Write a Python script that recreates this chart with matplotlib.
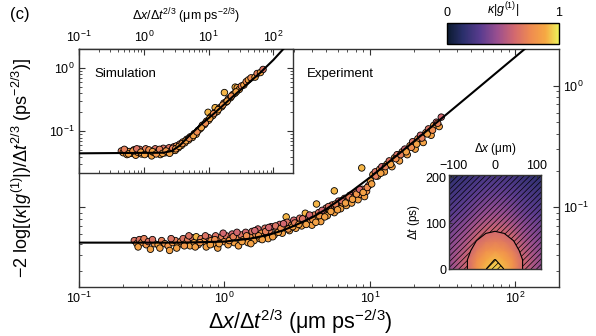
import numpy as np
import matplotlib
matplotlib.use('Agg')
import matplotlib.pyplot as plt
from matplotlib.colors import LinearSegmentedColormap

plt.rcParams['font.family'] = ['Liberation Sans', 'DejaVu Sans']
plt.rcParams['mathtext.fontset'] = 'custom'
plt.rcParams['mathtext.rm'] = 'Liberation Sans'
plt.rcParams['mathtext.it'] = 'Liberation Sans:italic'
plt.rcParams['mathtext.sf'] = 'Liberation Sans'
plt.rcParams['hatch.color'] = 'black'
plt.rcParams['hatch.linewidth'] = 0.5

# colour map of kappa|g1| (dark navy -> purple -> pink -> orange -> yellow)
cmap = LinearSegmentedColormap.from_list(
    'kg', [(0.0, '#0b1a2e'), (0.14, '#2a2f6b'), (0.3, '#5a3c8f'),
           (0.45, '#9a4f8f'), (0.6, '#d2686f'), (0.75, '#ef8c50'),
           (0.88, '#f6a843'), (1.0, '#eef25a')])

# experiment: theory line
line_x = [0.1, 0.5, 1.0, 1.5, 2.0, 2.5, 3.0, 4.0, 5.0, 7.0, 10, 20, 50, 100, 200]
line_y = [0.051, 0.051, 0.052, 0.055, 0.059, 0.064, 0.070, 0.082, 0.096,
          0.127, 0.175, 0.345, 0.86, 1.72, 3.45]

# experiment: data points (two interleaved sets)
exp_x = [0.24, 0.25, 0.26, 0.27, 0.28, 0.29, 0.30, 0.31, 0.33, 0.35, 0.37, 0.39,
         0.41, 0.42, 0.44, 0.46, 0.48, 0.50, 0.52, 0.54, 0.56, 0.58, 0.60, 0.62,
         0.64, 0.66, 0.69, 0.72, 0.75, 0.78, 0.81, 0.84, 0.87, 0.90, 0.93, 0.96,
         1.0, 1.03, 1.06, 1.1, 1.13, 1.17, 1.2, 1.25, 1.3, 1.35, 1.4, 1.45, 1.5,
         1.55, 1.6, 1.65, 1.7, 1.75, 1.8, 1.85, 1.9, 1.95, 2.0, 2.05, 2.1, 2.2,
         2.3, 2.4, 2.5, 2.6, 2.66, 2.7, 2.8, 2.9, 3.0, 3.1, 3.2, 3.3, 3.4, 3.5,
         3.6, 3.7, 3.8, 3.9, 4.0, 4.15, 4.3, 4.3, 4.45, 4.6, 4.8, 5.0, 5.1, 5.3,
         5.5, 5.7, 5.7, 5.9, 6.1, 6.3, 6.5, 6.7, 6.9, 7.1, 7.3, 7.5, 7.8, 8.0,
         8.3, 8.6, 8.8, 8.9, 9.2, 9.5, 9.8, 10.1, 10.5, 10.9, 11.3, 11.7, 12.1,
         12.6, 13.1, 13.6, 14.2, 14.8, 15.4, 16.0, 16.7, 17.4, 18.1, 18.9, 19.7,
         20.5, 21.4, 22.3, 23.3, 24.3, 25.3, 26.4, 27.5, 28.7, 30.0, 31.0]
exp_y = [0.053, 0.050, 0.054, 0.051, 0.055, 0.049, 0.052, 0.045, 0.050, 0.049,
         0.053, 0.050, 0.048, 0.044, 0.051, 0.053, 0.049, 0.052, 0.055, 0.050,
         0.054, 0.048, 0.056, 0.051, 0.057, 0.049, 0.055, 0.052, 0.047, 0.056,
         0.053, 0.050, 0.058, 0.046, 0.054, 0.057,
         0.052, 0.058, 0.049, 0.055, 0.060, 0.051, 0.056, 0.048, 0.059, 0.054,
         0.062, 0.051, 0.057, 0.063, 0.053, 0.059, 0.066, 0.055, 0.061, 0.057,
         0.067, 0.060, 0.055, 0.064, 0.069, 0.059, 0.066, 0.072, 0.061, 0.068,
         0.083, 0.075, 0.064, 0.071, 0.078, 0.067, 0.074, 0.081, 0.070, 0.077,
         0.089, 0.074, 0.083, 0.078, 0.071, 0.086, 0.106, 0.080, 0.090, 0.076,
         0.092, 0.098, 0.085, 0.095, 0.104, 0.136, 0.090, 0.101, 0.112, 0.097,
         0.108, 0.118, 0.103, 0.114, 0.125, 0.108, 0.120, 0.132, 0.115, 0.127,
         0.21, 0.140, 0.122, 0.135, 0.150, 0.165, 0.185, 0.195, 0.180, 0.205,
         0.215, 0.195, 0.225, 0.24, 0.215, 0.255, 0.27, 0.24, 0.285, 0.30, 0.27,
         0.32, 0.345, 0.30, 0.365, 0.39, 0.34, 0.41, 0.44, 0.39, 0.47, 0.50,
         0.46, 0.55]
exp_c = [0.65, 0.8, 0.65, 0.8, 0.7, 0.8, 0.65, 0.85, 0.8, 0.85, 0.7, 0.8, 0.8,
         0.85, 0.8, 0.7, 0.85, 0.75, 0.65, 0.8, 0.7, 0.85, 0.65, 0.85, 0.9, 0.8,
         0.7, 0.8, 0.85, 0.65, 0.8, 0.85, 0.65, 0.85, 0.8, 0.7,
         0.8, 0.65, 0.85, 0.8, 0.6, 0.85, 0.75, 0.85, 0.65, 0.8, 0.6, 0.85, 0.8,
         0.65, 0.85, 0.75, 0.6, 0.85, 0.8, 0.85, 0.65, 0.75, 0.85, 0.7, 0.6,
         0.85, 0.75, 0.6, 0.85, 0.7, 0.9, 0.65, 0.85, 0.75, 0.6, 0.85, 0.8, 0.65,
         0.85, 0.75, 0.9, 0.85, 0.65, 0.8, 0.85, 0.7, 0.9, 0.8, 0.65, 0.85,
         0.75, 0.65, 0.85, 0.8, 0.65, 0.9, 0.85, 0.75, 0.6, 0.85, 0.8, 0.65,
         0.85, 0.75, 0.6, 0.85, 0.8, 0.65, 0.85, 0.75, 0.9, 0.65, 0.85, 0.8,
         0.6, 0.85, 0.8, 0.65, 0.85, 0.75, 0.6, 0.85, 0.8, 0.65, 0.85, 0.8,
         0.65, 0.85, 0.75, 0.6, 0.85, 0.8, 0.65, 0.85, 0.75, 0.6, 0.85, 0.75,
         0.65, 0.85, 0.8, 0.6, 0.85, 0.6]
exp2_x = [0.255, 0.32, 0.36, 0.43, 0.47, 0.53, 0.57, 0.63, 0.68, 0.74, 0.8,
          0.86, 0.92, 0.98, 1.08, 1.15, 1.22, 1.32, 1.42, 1.52, 1.62, 1.72,
          1.82, 1.92, 2.02, 2.15, 2.25, 2.35, 2.45, 2.55, 2.75, 2.95, 3.05,
          3.25, 3.45, 3.65, 3.85, 4.05, 4.25, 4.5, 4.7, 4.9, 5.2, 5.4, 5.8, 6.0,
          6.4, 6.8, 7.2, 7.6, 8.1, 8.5, 9.0, 9.6, 10.3, 11.0, 11.9, 12.8, 13.9,
          15.1, 16.3, 17.8, 19.3, 21.0, 22.8, 24.8, 27.0, 29.3]
exp2_y = [0.047, 0.054, 0.046, 0.055, 0.046, 0.048, 0.058, 0.047, 0.051, 0.058,
          0.049, 0.054, 0.050, 0.061, 0.053, 0.057, 0.062, 0.052, 0.058, 0.050,
          0.064, 0.058, 0.054, 0.063, 0.068, 0.057, 0.070, 0.062, 0.067, 0.073,
          0.066, 0.069, 0.074, 0.072, 0.080, 0.072, 0.086, 0.079, 0.075, 0.085,
          0.094, 0.083, 0.101, 0.092, 0.106, 0.095, 0.113, 0.108, 0.121, 0.116,
          0.128, 0.140, 0.132, 0.145, 0.155, 0.18, 0.19, 0.215, 0.225, 0.25,
          0.27, 0.285, 0.31, 0.33, 0.37, 0.40, 0.43, 0.49]
exp2_c = [0.85, 0.65, 0.85, 0.65, 0.85, 0.8, 0.65, 0.85, 0.8, 0.65, 0.85, 0.75,
          0.85, 0.6, 0.8, 0.7, 0.6, 0.85, 0.75, 0.85, 0.6, 0.8, 0.85, 0.7, 0.6,
          0.85, 0.65, 0.85, 0.75, 0.6, 0.8, 0.85, 0.7, 0.85, 0.65, 0.85, 0.6,
          0.8, 0.85, 0.8, 0.6, 0.85, 0.65, 0.85, 0.7, 0.85, 0.65, 0.85, 0.7,
          0.85, 0.8, 0.6, 0.85, 0.75, 0.85, 0.7, 0.85, 0.7, 0.85, 0.75, 0.7,
          0.85, 0.75, 0.85, 0.7, 0.85, 0.75, 0.7]

# simulation: theory line
sim_line_x = [0.1, 2.0, 2.7, 3.6, 5.0, 7.4, 12, 24, 63, 100, 142, 200]
sim_line_y = [0.045, 0.046, 0.049, 0.060, 0.085, 0.125, 0.19, 0.36, 0.85,
              1.35, 2.0, 2.8]

# simulation: data points
sim_x = [0.45, 0.48, 0.52, 0.55, 0.6, 0.65, 0.7, 0.75, 0.8, 0.86, 0.92, 1.0,
         1.07, 1.15, 1.23, 1.32, 1.4, 1.5, 1.6, 1.7, 1.8, 1.9, 2.0, 2.15, 2.3,
         2.45, 2.6, 2.75, 2.9, 3.05, 3.2, 3.4, 3.6, 3.8, 4.0, 4.3, 4.6, 4.9,
         5.2, 5.6, 6.0, 6.4, 6.9, 7.4, 8.0, 8.6, 9.3, 9.8, 10.0, 10.8, 11.6,
         12.6, 12.6, 13.6, 14.7, 15.9, 17.2, 17.5, 18.6, 20.1, 21.7, 23.5, 25.4,
         25.7, 27.5, 27.6, 29.7, 32, 35, 38, 41, 45, 52, 56, 63, 69]
sim_y = [0.049, 0.046, 0.050, 0.043, 0.048, 0.045, 0.051, 0.042, 0.047, 0.052,
         0.044, 0.048, 0.053, 0.045, 0.049, 0.041, 0.047, 0.053, 0.046, 0.050,
         0.043, 0.048, 0.054, 0.046, 0.051, 0.055, 0.048, 0.052, 0.057, 0.050,
         0.059, 0.055, 0.063, 0.060, 0.068, 0.066, 0.075, 0.073, 0.082, 0.080,
         0.092, 0.090, 0.104, 0.110, 0.125, 0.128, 0.145, 0.20, 0.150, 0.170,
         0.178, 0.237, 0.198, 0.206, 0.235, 0.245, 0.28, 0.41, 0.29, 0.325,
         0.34, 0.38, 0.40, 0.50, 0.44, 0.49, 0.46, 0.52, 0.54, 0.61, 0.65,
         0.70, 0.72, 0.82, 0.85, 0.95]
sim_c = [0.7, 0.85, 0.65, 0.85, 0.8, 0.85, 0.7, 0.85, 0.8, 0.65, 0.85, 0.8,
         0.7, 0.85, 0.8, 0.85, 0.8, 0.65, 0.85, 0.8, 0.85, 0.75, 0.65, 0.85,
         0.8, 0.65, 0.85, 0.8, 0.65, 0.85, 0.75, 0.85, 0.65, 0.85, 0.75, 0.85,
         0.7, 0.85, 0.75, 0.85, 0.7, 0.85, 0.75, 0.85, 0.7, 0.85, 0.75, 0.9,
         0.85, 0.75, 0.85, 0.9, 0.7, 0.85, 0.75, 0.85, 0.7, 0.9, 0.85, 0.75,
         0.85, 0.7, 0.85, 0.9, 0.75, 0.85, 0.85, 0.7, 0.85, 0.75, 0.85, 0.75,
         0.85, 0.7, 0.85, 0.65]
sim2_x = [0.5, 0.58, 0.68, 0.78, 0.9, 1.03, 1.2, 1.36, 1.55, 1.75, 1.95, 2.2,
          2.5, 2.8, 3.1, 3.5, 3.9, 4.45, 5.0, 5.8, 6.6, 7.7, 8.9, 10.4, 11.9,
          14.0, 16.5, 19.3, 22.5, 26.5]
sim2_y = [0.052, 0.044, 0.049, 0.053, 0.047, 0.043, 0.051, 0.048, 0.044, 0.052,
          0.045, 0.049, 0.045, 0.054, 0.053, 0.058, 0.064, 0.071, 0.078, 0.086,
          0.098, 0.115, 0.135, 0.16, 0.19, 0.22, 0.26, 0.30, 0.36, 0.42]
sim2_c = [0.7, 0.85, 0.8, 0.65, 0.85, 0.85, 0.75, 0.85, 0.8, 0.7, 0.85, 0.8,
          0.85, 0.7, 0.8, 0.85, 0.8, 0.85, 0.75, 0.85, 0.75, 0.85, 0.75, 0.85,
          0.75, 0.85, 0.8, 0.85, 0.75, 0.85]

# kappa|g1|(dx, dt) map
map_dx = [-110, -88, -66, -44, -22, 0, 22, 44, 66, 88, 110]
map_dt = [0, 20, 40, 60, 80, 100, 120, 140, 160, 180, 205]
half_rows = [  # columns |dx| = 0, 22, 44, 66, 88, 110
    [0.950, 0.903, 0.775, 0.600, 0.501, 0.420],
    [0.908, 0.867, 0.755, 0.600, 0.510, 0.436],
    [0.800, 0.768, 0.680, 0.554, 0.479, 0.416],
    [0.700, 0.675, 0.607, 0.507, 0.447, 0.396],
    [0.609, 0.590, 0.537, 0.458, 0.409, 0.367],
    [0.530, 0.515, 0.474, 0.411, 0.373, 0.338],
    [0.460, 0.447, 0.410, 0.355, 0.320, 0.290],
    [0.400, 0.390, 0.360, 0.315, 0.285, 0.260],
    [0.345, 0.337, 0.312, 0.275, 0.250, 0.228],
    [0.295, 0.288, 0.268, 0.238, 0.215, 0.196],
    [0.245, 0.240, 0.224, 0.198, 0.178, 0.162],
]
kg_map = np.array([r[:0:-1] + r for r in half_rows])

W, H = 596, 336
fig = plt.figure(figsize=(W / 100, H / 100), dpi=100)

def tick_style(ax):
    ax.tick_params(which='both', direction='in', labelsize=9, pad=3,
                   color='#333333')
    ax.tick_params(which='major', length=4)
    ax.tick_params(which='minor', length=2)
    for s in ax.spines.values():
        s.set_color('#333333')
        s.set_linewidth(1.0)

pt = dict(cmap=cmap, vmin=0, vmax=1, s=22, edgecolors='black',
          linewidths=0.6, zorder=2)

# main axes (experiment)
ax = fig.add_axes([79 / W, 1 - 287 / H, 480 / W, 238 / H])
ax.scatter(exp_x, exp_y, c=exp_c, **pt)
ax.scatter(exp2_x, exp2_y, c=exp2_c, **pt)
ax.plot(line_x, line_y, color='black', lw=1.5, zorder=3)
ax.set_xscale('log')
ax.set_yscale('log')
ax.set_xlim(0.1, 200)
ax.set_ylim(0.022, 2.0)
tick_style(ax)
ax.tick_params(axis='y', which='both', left=True, right=True,
               labelleft=False, labelright=True)
ax.tick_params(axis='x', which='both', top=True, bottom=True)
fig.text(300 / W, 1 - 322 / H, r'$\Delta x/\Delta t^{2/3}$ (μm ps$^{-2/3}$)',
         fontsize=15.5, ha='center', va='center')
ax.text(307 / W, 1 - 74 / H, 'Experiment', transform=fig.transFigure,
        fontsize=9.5, va='center', ha='left')
fig.text(22 / W, 0.5, r'$-2\ \mathrm{log}[(\kappa|g^{(1)}|)/\Delta t^{2/3}\ (\mathrm{ps}^{-2/3})]$',
         rotation=90, fontsize=13, ha='center', va='center')

# inset (simulation)
ins = fig.add_axes([79 / W, 1 - 173 / H, 214 / W, 124 / H])
ins.set_facecolor('white')
ins.scatter(sim_x, sim_y, c=sim_c, **pt)
ins.scatter(sim2_x, sim2_y, c=sim2_c, **pt)
ins.plot(sim_line_x, sim_line_y, color='black', lw=1.5, zorder=3)
ins.set_xscale('log')
ins.set_yscale('log')
ins.set_xlim(0.1, 200)
ins.set_ylim(0.022, 2.0)
tick_style(ins)
ins.tick_params(axis='x', which='both', top=True, bottom=True,
                labeltop=True, labelbottom=False)
ins.tick_params(axis='y', which='both', left=True, right=True)
ins.xaxis.set_label_position('top')
ins.set_xlabel(r'$\Delta x/\Delta t^{2/3}$ (μm ps$^{-2/3}$)', fontsize=9,
               labelpad=7)
ins.text(0.07, 0.8, 'Simulation', transform=ins.transAxes, fontsize=9.5,
         va='center')

# kappa|g1| map inset
mp = fig.add_axes([449 / W, 1 - 269 / H, 92 / W, 94 / H])
X, T = np.meshgrid(map_dx, map_dt)
mp.pcolormesh(X, T, kg_map, cmap=cmap, vmin=0, vmax=1, shading='gouraud')
mp.contourf(X, T, kg_map, levels=[0, 0.6, 0.905, 1.0], colors='none',
            hatches=['//////', None, '//////'])
mp.contour(X, T, kg_map, levels=[0.6, 0.905], colors='black', linewidths=0.8)
mp.set_xlim(-110, 110)
mp.set_ylim(0, 205)
mp.set_xticks([-100, 0, 100])
mp.set_yticks([0, 100, 200])
tick_style(mp)
mp.tick_params(which='major', length=2.5, pad=2)
mp.tick_params(axis='x', top=True, bottom=False, labeltop=True,
               labelbottom=False)
mp.xaxis.set_label_position('top')
mp.set_xlabel(r'$\Delta x$ (μm)', fontsize=8.5, labelpad=6)
mp.set_ylabel(r'$\Delta t$ (ps)', fontsize=8.5, labelpad=2)

# colour bar
cax = fig.add_axes([447 / W, 1 - 44 / H, 112 / W, 21 / H])
sm = matplotlib.cm.ScalarMappable(cmap=cmap, norm=plt.Normalize(0, 1))
cb = fig.colorbar(sm, cax=cax, orientation='horizontal')
cb.outline.set_linewidth(1.0)
cax.xaxis.set_ticks_position('top')
cax.set_xticks([0, 1])
cax.tick_params(length=0, labelsize=9, pad=3)
cax.text(0.5, 1.12, r'$\kappa|g^{(1)}|$', transform=cax.transAxes,
         ha='center', va='bottom', fontsize=9)

fig.text(10 / W, 1 - 14 / H, '(c)', fontsize=12, va='center', ha='left')

fig.savefig('out.png', dpi=100)
